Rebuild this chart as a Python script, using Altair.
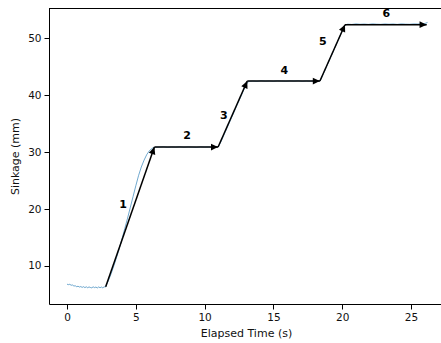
import math
import altair as alt
import pandas as pd

# Measured sinkage trace
time_s = [
    0.0, 0.1, 0.2, 0.3, 0.4, 0.5, 0.6, 0.7, 0.8, 0.9, 1.0, 1.1, 1.2, 1.3, 1.4,
    1.5, 1.6, 1.7, 1.8, 1.9, 2.0, 2.1, 2.2, 2.3, 2.4, 2.5, 2.6, 2.7, 2.8,
    3.0, 3.2, 3.4, 3.6, 3.8, 4.0, 4.2, 4.4, 4.6, 4.8, 5.0, 5.2, 5.4, 5.6, 5.8,
    6.0, 6.2, 6.4,
    6.7, 7.0, 7.3, 7.6, 7.9, 8.2, 8.5, 8.8, 9.1, 9.4, 9.7, 10.0, 10.3, 10.6, 10.9,
    11.0, 11.2, 11.4, 11.6, 11.8, 12.0, 12.2, 12.4, 12.6, 12.8, 13.0, 13.2,
    13.5, 13.8, 14.1, 14.4, 14.7, 15.0, 15.3, 15.6, 15.9, 16.2, 16.5, 16.8,
    17.1, 17.4, 17.7, 18.0, 18.3,
    18.4, 18.6, 18.8, 19.0, 19.2, 19.4, 19.6, 19.8, 20.0, 20.2, 20.4,
    20.7, 21.0, 21.3, 21.6, 21.9, 22.2, 22.5, 22.8, 23.1, 23.4, 23.7, 24.0,
    24.3, 24.6, 24.9, 25.2, 25.5, 25.8, 26.0, 26.2,
]
sinkage_mm = [
    6.80, 6.72, 6.78, 6.62, 6.66, 6.48, 6.52, 6.36, 6.44, 6.30, 6.38, 6.24, 6.36, 6.20, 6.34,
    6.18, 6.32, 6.22, 6.16, 6.34, 6.20, 6.30, 6.14, 6.32, 6.18, 6.30, 6.16, 6.34, 6.30,
    7.4, 8.6, 10.0, 11.5, 13.1, 14.8, 16.6, 18.4, 20.3, 22.2, 24.1, 25.9, 27.4, 28.6, 29.6,
    30.3, 30.7, 30.85,
    30.90, 30.95, 30.85, 30.92, 30.88, 30.96, 30.86, 30.93, 30.90, 30.84, 30.95, 30.89, 30.92, 30.87, 30.94,
    30.95, 31.9, 33.0, 34.1, 35.2, 36.3, 37.4, 38.5, 39.6, 40.7, 41.8, 42.45,
    42.50, 42.45, 42.55, 42.48, 42.52, 42.46, 42.54, 42.50, 42.47, 42.53, 42.49, 42.55,
    42.46, 42.52, 42.48, 42.54, 42.50,
    42.55, 43.6, 44.7, 45.8, 46.9, 48.0, 49.1, 50.2, 51.3, 52.3, 52.50,
    52.45, 52.55, 52.48, 52.52, 52.46, 52.55, 52.50, 52.47, 52.54, 52.49, 52.53, 52.46,
    52.55, 52.50, 52.48, 52.54, 52.52, 52.56, 52.60, 52.80,
]

# Loading stages drawn as arrows
stage_t0 = [2.81, 6.35, 10.98, 13.10, 18.38, 20.20]
stage_s0 = [6.36, 30.90, 30.90, 42.50, 42.50, 52.40]
stage_t1 = [6.35, 10.98, 13.10, 18.38, 20.20, 26.14]
stage_s1 = [30.90, 30.90, 42.50, 42.50, 52.40, 52.40]

# Stage number labels
label_text = ["1", "2", "3", "4", "5", "6"]
label_t = [4.07, 8.72, 11.40, 15.80, 18.60, 23.20]
label_s = [20.7, 32.9, 36.3, 44.2, 49.3, 54.2]

x_domain = [-1.31, 27.18]
y_domain = [3.32, 55.34]
W, H = 392, 296

# Screen-space direction of each arrow, used to rotate its head
sx = W / (x_domain[1] - x_domain[0])
sy = H / (y_domain[1] - y_domain[0])
angles = [
    math.degrees(math.atan2((t1 - t0) * sx, (s1 - s0) * sy))
    for t0, s0, t1, s1 in zip(stage_t0, stage_s0, stage_t1, stage_s1)
]

trace = pd.DataFrame({"t": time_s, "s": sinkage_mm})
stages = pd.DataFrame({
    "t0": stage_t0, "s0": stage_s0, "t1": stage_t1, "s1": stage_s1, "angle": angles,
})
labels = pd.DataFrame({"t": label_t, "s": label_s, "txt": label_text})

xs = alt.Scale(domain=x_domain, nice=False, zero=False)
ys = alt.Scale(domain=y_domain, nice=False, zero=False)

x_axis = alt.Axis(
    values=[0, 5, 10, 15, 20, 25], title="Elapsed Time (s)", grid=False,
    titleX=197, titleY=29, titleBaseline="middle", titleAlign="center",
)
y_axis = alt.Axis(
    values=[10, 20, 30, 40, 50], title="Sinkage (mm)", grid=False,
    titleX=-34, titleY=H / 2, titleBaseline="middle", titleAlign="center",
)

line = alt.Chart(trace).mark_line(
    color="#1f77b4", strokeWidth=0.8, opacity=0.8
).encode(
    x=alt.X("t:Q", scale=xs, axis=x_axis),
    y=alt.Y("s:Q", scale=ys, axis=y_axis),
)

shafts = alt.Chart(stages).mark_rule(color="black", strokeWidth=1.5).encode(
    x=alt.X("t0:Q", scale=xs),
    y=alt.Y("s0:Q", scale=ys),
    x2="t1:Q",
    y2="s1:Q",
)

heads = alt.Chart(stages).mark_point(
    shape="M0,0L-1,2.1L1,2.1Z", filled=True, color="black", opacity=1,
    size=46, strokeWidth=0,
).encode(
    x=alt.X("t1:Q", scale=xs),
    y=alt.Y("s1:Q", scale=ys),
    angle=alt.Angle("angle:Q", scale=None),
)

nums = alt.Chart(labels).mark_text(
    font="DejaVu Sans", fontWeight="bold", fontSize=11, color="black",
    align="center", baseline="middle",
).encode(
    x=alt.X("t:Q", scale=xs),
    y=alt.Y("s:Q", scale=ys),
    text="txt:N",
)

top_border = alt.Chart(trace).mark_rule(color="black", strokeWidth=1).encode(
    x=alt.value(0), x2=alt.value(W), y=alt.value(0.5)
)

chart = alt.layer(line, shafts, heads, nums, top_border).properties(
    width=W, height=H,
    autosize=alt.AutoSizeParams(type="none"),
    padding={"left": 49, "top": 8, "right": 0, "bottom": 39},
).configure_view(
    stroke=None
).configure_axis(
    domainColor="black", domainWidth=1, tickColor="black", tickSize=5,
    labelFont="DejaVu Sans", labelFontSize=10.5, labelColor="#111",
    titleFont="DejaVu Sans", titleFontSize=11, titleColor="#111",
    titleFontWeight="normal", labelPadding=3,
)

chart.save("out.html", embed_options={"renderer": "svg", "actions": False})
